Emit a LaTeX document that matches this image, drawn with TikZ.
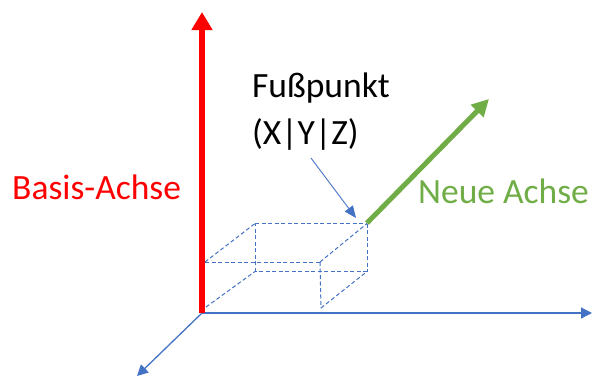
\documentclass[tikz,border=0pt]{standalone}
\usepackage{fontspec}
\setmainfont{Carlito}
\usetikzlibrary{arrows.meta}
\definecolor{axisblue}{RGB}{68,114,196}
\definecolor{newgreen}{RGB}{112,173,71}
\definecolor{basered}{RGB}{255,0,0}
\tikzset{
  axisline/.style={draw=axisblue, line width=1.3pt, -{Triangle[length=11pt,width=11pt]}},
  dashedge/.style={draw=axisblue, line width=1pt, dash pattern=on 4pt off 2.5pt},
  label/.style={font=\fontsize{35.5}{47}\selectfont, anchor=base west, inner sep=0pt, align=left},
}
\begin{document}
\begin{tikzpicture}[x=1pt, y=-1pt]
\useasboundingbox (0,0) rectangle (592,376);

% frame points
\coordinate (O) at (202,313);
\coordinate (xend) at (592,313);
\coordinate (zend) at (137,376);
\coordinate (yend) at (202,12);
\coordinate (P) at (367,223);
\coordinate (nend) at (489,99);
\coordinate (hint) at (311,158);
\coordinate (hintend) at (356,218);

% box corners
\coordinate (b1) at (255,223.5);
\coordinate (b2) at (367,223.5);
\coordinate (b3) at (367,271.5);
\coordinate (b4) at (255,271.5);
\coordinate (f1) at (205,262);
\coordinate (f2) at (320,262);
\coordinate (f3) at (321,308);
\coordinate (f4) at (206,307);

% dashed box
\draw[dashedge] (b1) -- (b2);
\draw[dashedge] (b2) -- (b3);
\draw[dashedge] (b3) -- (b4);
\draw[dashedge] (b4) -- (b1);
\draw[dashedge] (f1) -- (f2);
\draw[dashedge] (f2) -- (f3);
\draw[dashedge] (f1) -- (b1);
\draw[dashedge] (f2) -- (b2);
\draw[dashedge] (f3) -- (b3);
\draw[dashedge] (f4) -- (b4);

% base axes
\draw[axisline] (O) -- (xend);
\draw[axisline] (O) -- (zend);
\draw[draw=basered, line width=6pt, -{Triangle[length=18pt,width=20pt]}] (O) -- (yend);

% new axis
\draw[draw=newgreen, line width=5pt, -{Triangle[length=17pt,width=17pt]}] (P) -- (nend);

% pointer to the foot point
\draw[draw=axisblue, line width=0.9pt, -{Triangle[length=12pt,width=10pt]}] (hint) -- (hintend);

% labels
\node[label, text=basered] (basis) at (12,199) {Basis-Achse};
\node[label, text=black] (fuss) at (252,144) {Fußpunkt\\(X|Y|Z)};
\node[label, text=newgreen] (neu) at (418,203) {Neue Achse};
\end{tikzpicture}
\end{document}
